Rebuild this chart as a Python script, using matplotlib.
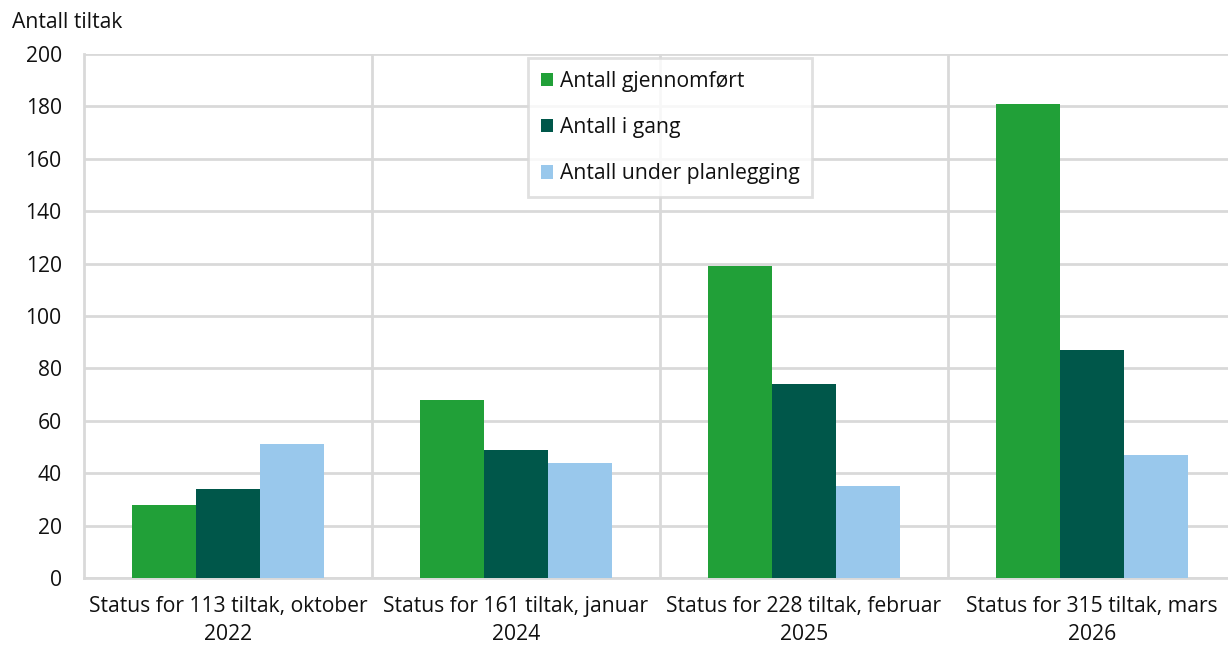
import matplotlib
matplotlib.use("Agg")
import matplotlib.pyplot as plt
import numpy as np

categories = ["Status for 113 tiltak, oktober\n2022",
              "Status for 161 tiltak, januar\n2024",
              "Status for 228 tiltak, februar\n2025",
              "Status for 315 tiltak, mars\n2026"]
series_names = ["Antall gjennomført", "Antall i gang", "Antall under planlegging"]
gjennomfort = [28, 68, 119, 181]
i_gang = [34, 49, 74, 87]
planlegging = [51, 44, 35, 47]
colors = ["#21a038", "#00574a", "#99c8ec"]
yticks = [0, 20, 40, 60, 80, 100, 120, 140, 160, 180, 200]

plt.rcParams['font.family'] = ['Open Sans', 'DejaVu Sans']
FS = 15.2
TC = "#111111"

fig = plt.figure(figsize=(12.28, 6.48), dpi=100)
ax = fig.add_axes([84/1228, 1 - 578/648, (1236 - 84)/1228, (578 - 54)/648])

x = np.arange(len(categories))
w = 0.222
for i, (vals, name) in enumerate(zip([gjennomfort, i_gang, planlegging], series_names)):
    ax.bar(x + (i - 1) * w, vals, width=w, color=colors[i], label=name, zorder=3)

ax.set_xlim(-0.5, len(categories) - 0.5)
ax.set_ylim(0, 200)
ax.set_yticks(yticks)
ax.set_xticks(x)
ax.set_xticklabels(categories, fontsize=FS, color=TC, linespacing=1.45)
ax.set_xticks(np.arange(0.5, len(categories) - 0.5, 1), minor=True)
ax.tick_params(axis='y', labelsize=FS, length=0, pad=16, labelcolor=TC)
ax.tick_params(axis='x', which='both', length=0, pad=13)

ax.grid(axis='y', color="#d9d9d9", linewidth=2, zorder=0)
ax.grid(axis='x', which='minor', color="#d9d9d9", linewidth=2, zorder=0)
ax.grid(axis='x', which='major', visible=False)

for s in ['top', 'right']:
    ax.spines[s].set_visible(False)
for s in ['left', 'bottom']:
    ax.spines[s].set_color("#d9d9d9")
    ax.spines[s].set_linewidth(2)

fig.text(12/1228, 1 - 22/648, "Antall tiltak", fontsize=FS, color=TC, va='center', ha='left')

leg = ax.legend(loc='upper left', bbox_to_anchor=((528 - 84)/1152, (578 - 58)/524),
                fontsize=FS, frameon=True, fancybox=False, edgecolor="#d9d9d9",
                handlelength=0.6, handleheight=0.6, handletextpad=0.3,
                labelspacing=1.2, borderpad=0.6, borderaxespad=0)
leg.get_frame().set_linewidth(2)
leg.set_zorder(5)
for t in leg.get_texts():
    t.set_color(TC)

fig.savefig("out.png", dpi=100, facecolor="white")
